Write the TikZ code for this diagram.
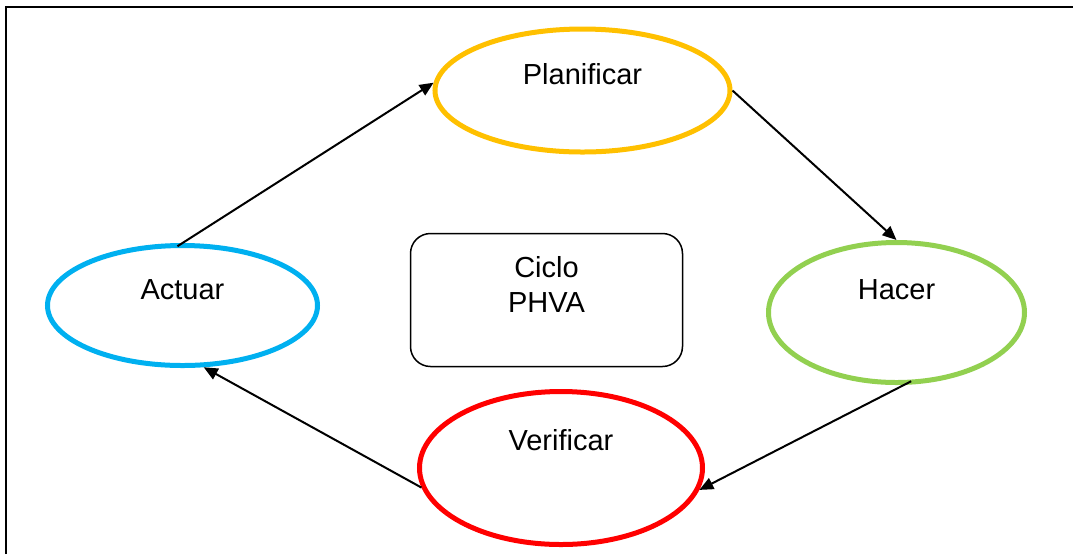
\documentclass[tikz,border=0pt]{standalone}
\usepackage{fontspec}
\setmainfont{Liberation Sans}
\usetikzlibrary{shapes.geometric,arrows.meta}
\definecolor{planyellow}{HTML}{FFC000}
\definecolor{hacergreen}{HTML}{92D050}
\definecolor{verifred}{HTML}{FF0000}
\definecolor{actuarblue}{HTML}{00B0F0}

\begin{document}
\begin{tikzpicture}[x=0.5pt,y=-0.5pt,
    fase/.style={ellipse,draw,line width=2.5pt,text height=10pt,
      font=\fontsize{14.5}{17.5}\selectfont},
    flecha/.style={-{Triangle[length=7pt,width=6pt]},line width=1pt}]
  \useasboundingbox (0,0) rectangle (1073,554);
  % frame (top and left only)
  \draw[line width=1.25pt] (6,554) -- (6,7) -- (1073,7);

  % the four phases
  \node[fase,draw=planyellow,minimum width=147.5pt,minimum height=61.5pt,text depth=16pt] (plan) at (582.5,90.5) {Planificar};
  \node[fase,draw=hacergreen,minimum width=128pt,minimum height=70pt,text depth=23pt] (hacer) at (896.5,312.5) {Hacer};
  \node[fase,draw=verifred,minimum width=141.5pt,minimum height=76.5pt,text depth=28pt] (verif) at (561,468) {Verificar};
  \node[fase,draw=actuarblue,minimum width=135pt,minimum height=60pt,text depth=16pt] (actuar) at (182.5,305.5) {Actuar};

  % centre box
  \node[draw,rounded corners=10pt,line width=0.75pt,minimum width=136pt,minimum height=66.5pt,
    align=center,text depth=15.5pt,font=\fontsize{14.5}{17.5}\selectfont] (ciclo) at (546.5,300) {Ciclo\\PHVA};

  % arrows
  \draw[flecha,shorten <=-3pt] (actuar.north) -- (plan.177);
  \draw[flecha] (plan.east) -- (hacer.north);
  \draw[flecha,shorten <=-4pt] (hacer.-84) -- (verif.-9);
  \draw[flecha] (verif.188) -- (actuar.-71);
\end{tikzpicture}
\end{document}
